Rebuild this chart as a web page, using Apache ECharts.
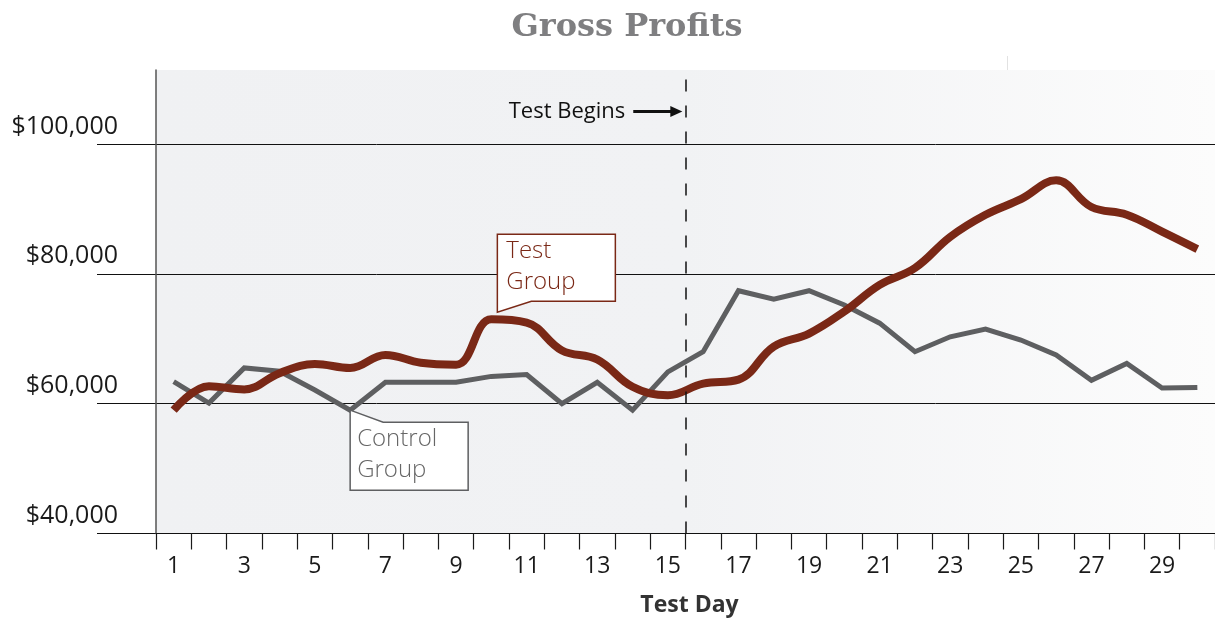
<!DOCTYPE html>
<html><head><meta charset="utf-8">
<script src="https://cdn.jsdelivr.net/npm/echarts@6/dist/echarts.min.js"></script>
<style>html,body{margin:0;padding:0;background:#fff}#c{width:1215px;height:619px}</style>
</head><body><div id="c"></div>
<script>
// ---- data ----
const days = ['1','2','3','4','5','6','7','8','9','10','11','12','13','14','15','16','17','18','19','20','21','22','23','24','25','26','27','28','29','30'];
const testGroup = [59000, 62700, 62200, 64700, 66100, 65500, 67500, 66300, 66000, 73000, 72500, 68200, 66800, 62600, 61300, 63100, 63700, 68800, 70800, 74200, 78300, 80900, 85700, 89100, 91500, 94400, 90300, 89100, 86500, 83800];
const controlGroup = [63400, 60100, 65500, 65000, 62100, 59000, 63300, 63300, 63300, 64200, 64500, 60000, 63300, 59000, 64900, 68000, 77400, 76100, 77400, 75200, 72400, 68000, 70300, 71500, 69800, 67500, 63600, 66200, 62400, 62500];
const yTicks = [40000, 60000, 80000, 100000];
const testStartDay = 15.5;      // boundary between day 15 and day 16
const yMin = 40000, yTop = 111400, yStep = 20000;

const RED = '#7a2816', GRAY = '#5e5f61';
const FONT = '"Open Sans", "Noto Sans", sans-serif';

const chart = echarts.init(document.getElementById('c'), null, {renderer: 'canvas'});
chart.setOption({
  animation: false,
  title: {
    text: 'Gross Profits', left: 622, top: 7, textAlign: 'center',
    textStyle: {fontFamily: '"DejaVu Serif", serif', fontWeight: 'bold', fontSize: 32, color: '#7f7f81'}
  },
  grid: [
    {left: 156, right: 0, top: 70, bottom: 85.5, show: true, borderWidth: 0, outerBoundsMode: 'none', containLabel: false,
     backgroundColor: {type: 'linear', x: 0, y: 0, x2: 1, y2: 0,
       colorStops: [{offset: 0, color: '#f0f1f3'}, {offset: 0.5, color: '#f1f2f4'}, {offset: 1, color: '#fcfcfc'}]}},
    {left: 97, right: 0, top: 144, bottom: 85.5, outerBoundsMode: 'none', containLabel: false}
  ],
  xAxis: [
    {type: 'category', gridIndex: 0, data: days, boundaryGap: true,
     axisLine: {lineStyle: {color: '#111', width: 1}},
     axisTick: {show: true, interval: 0, length: 16, lineStyle: {color: '#1a1a1a', width: 1.2}},
     axisLabel: {interval: 1, margin: 21, fontFamily: FONT, fontSize: 23, color: '#1a1a1a'},
     name: 'Test Day', nameLocation: 'middle', nameGap: 60,
     nameTextStyle: {fontFamily: FONT, fontWeight: 'bold', fontSize: 23, color: '#333', padding: [0, 0, 0, 8]}},
    {type: 'value', gridIndex: 0, min: 0.5, max: 30.5, show: false},
    {type: 'category', gridIndex: 1, data: days, show: false}
  ],
  yAxis: [
    {type: 'value', gridIndex: 0, min: yMin, max: yTop,
     axisLine: {show: true, lineStyle: {color: '#555', width: 1.5}},
     axisTick: {show: false}, axisLabel: {show: false}, splitLine: {show: false}},
    {type: 'value', gridIndex: 1, min: yTicks[0], max: yTicks[yTicks.length - 1], interval: yStep,
     axisLine: {show: false}, axisTick: {show: false},
     splitLine: {show: true, lineStyle: {color: '#111', width: 1}},
     axisLabel: {margin: -21, align: 'right', verticalAlign: 'bottom', padding: [0, 0, 5, 0],
       lineHeight: 25, fontFamily: FONT, fontSize: 25, color: '#1a1a1a',
       formatter: v => '$' + v.toLocaleString('en-US')}}
  ],
  series: [
    {name: 'Control Group', type: 'line', xAxisIndex: 0, yAxisIndex: 0, data: controlGroup,
     showSymbol: false, smooth: false, z: 3,
     lineStyle: {color: GRAY, width: 5, join: 'miter'}},
    {name: 'Test Group', type: 'line', xAxisIndex: 0, yAxisIndex: 0, data: testGroup,
     showSymbol: false, smooth: 0.4, z: 4,
     lineStyle: {color: RED, width: 8, join: 'round'}},
    {name: 'marker', type: 'line', xAxisIndex: 1, yAxisIndex: 0, data: [], z: 5,
     markLine: {
       silent: true, animation: false, symbol: ['none', 'none'],
       data: [
         {xAxis: testStartDay, label: {show: false},
          lineStyle: {color: '#111', width: 1.5, type: [12, 14]}},
         [{coord: [14.02, 105000], symbol: 'none',
           label: {show: true, position: 'start', formatter: 'Test Begins', distance: 8,
                   fontFamily: FONT, fontSize: 22, color: '#111'},
           lineStyle: {color: '#111', width: 3, type: 'solid'}},
          {coord: [15.24, 105000], symbol: 'triangle', symbolSize: [11, 12]}]
       ]
     }}
  ]
});

function drawCallouts() {
  const t = chart.convertToPixel({xAxisIndex: 0, yAxisIndex: 0}, [9, testGroup[9]]);
  const c = chart.convertToPixel({xAxisIndex: 0, yAxisIndex: 0}, [5, controlGroup[5]]);
  const T = [t[0] + 6, t[1] - 7];
  const C = [c[0], c[1]];
  const tfont = {fontFamily: FONT, fontWeight: 300, fontSize: 24};
  chart.setOption({graphic: [
    {type: 'polygon', z: 50, shape: {points: [[T[0], T[1] - 78], [T[0] + 118, T[1] - 78], [T[0] + 118, T[1] - 11], [T[0] + 34, T[1] - 11], [T[0], T[1]]]},
     style: {fill: '#fff', stroke: RED, lineWidth: 1.5}},
    {type: 'text', z: 51, x: T[0] + 9, y: T[1] - 61, style: Object.assign({text: 'Test', fill: RED, verticalAlign: 'middle'}, tfont)},
    {type: 'text', z: 51, x: T[0] + 9, y: T[1] - 30, style: Object.assign({text: 'Group', fill: RED, verticalAlign: 'middle'}, tfont)},
    {type: 'polygon', z: 50, shape: {points: [[C[0], C[1]], [C[0] + 33, C[1] + 12], [C[0] + 118, C[1] + 12], [C[0] + 118, C[1] + 80], [C[0], C[1] + 80]]},
     style: {fill: '#fff', stroke: GRAY, lineWidth: 1.5}},
    {type: 'text', z: 51, x: C[0] + 7, y: C[1] + 29, style: Object.assign({text: 'Control', fill: '#666', verticalAlign: 'middle'}, tfont)},
    {type: 'text', z: 51, x: C[0] + 7, y: C[1] + 60, style: Object.assign({text: 'Group', fill: '#666', verticalAlign: 'middle'}, tfont)},
    {type: 'line', z: 1, shape: {x1: 1007.5, y1: 56, x2: 1007.5, y2: 70}, style: {stroke: '#e2e2e2', lineWidth: 1}}
  ]});
}
drawCallouts();
</script>
</body></html>
